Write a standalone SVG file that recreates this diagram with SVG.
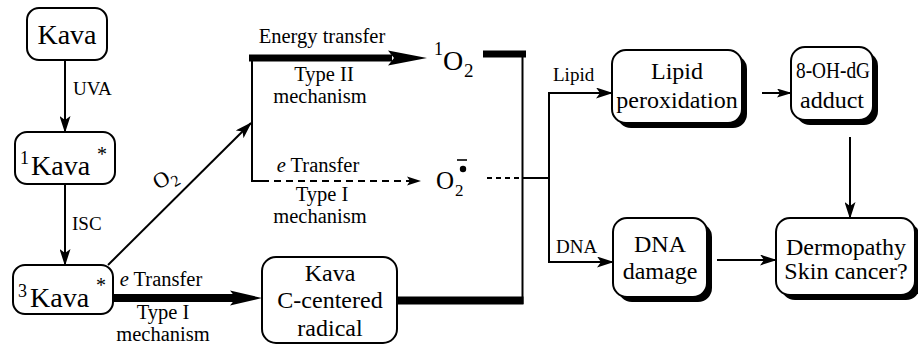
<svg xmlns="http://www.w3.org/2000/svg" width="918" height="349" viewBox="0 0 918 349" font-family="'Liberation Serif', 'DejaVu Serif', 'Times New Roman', serif">
<style>
  text { font-family: "Liberation Serif", "DejaVu Serif", "Times New Roman", serif; fill: #000; }
  .lbl { font-size: 19px; }
  .lbm { font-size: 20.5px; text-anchor: middle; }
  .big { font-size: 28px; }
  .bt { font-size: 24px; text-anchor: middle; }
  .box { fill: #fff; stroke: #000; stroke-width: 2; }
  .shadow { fill: #000; stroke: none; }
  .thin { fill: none; stroke: #000; stroke-width: 2; }
  .mid { text-anchor: middle; }
</style>
<defs>
  <marker id="ah" markerUnits="userSpaceOnUse" markerWidth="17" markerHeight="11" refX="16" refY="5.5" orient="auto">
    <path d="M0,0 L17,5.5 L0,11 L4,5.5 z" fill="#000"/>
  </marker>
  <marker id="ahs" markerUnits="userSpaceOnUse" markerWidth="15" markerHeight="9" refX="14" refY="4.5" orient="auto">
    <path d="M0,0 L15,4.5 L0,9 L3,4.5 z" fill="#000"/>
  </marker>
</defs>

<g id="kava">
  <rect class="box" x="27" y="8" width="80" height="52" rx="12"/>
  <text class="big mid" x="67" y="44">Kava</text>
</g>
<g id="kava1">
  <rect class="box" x="15" y="132" width="100" height="52" rx="12"/>
  <text x="20" y="164" font-size="18">1</text>
  <text class="big" x="31" y="175">Kava</text>
  <text x="97" y="161" font-size="20">*</text>
</g>
<g id="kava3">
  <rect class="box" x="13" y="265" width="100" height="49" rx="12"/>
  <text x="18" y="297" font-size="18">3</text>
  <text class="big" x="30" y="307">Kava</text>
  <text x="96" y="292" font-size="20">*</text>
</g>
<g id="radical">
  <rect class="box" x="262" y="257" width="135" height="86" rx="14"/>
  <text class="bt" x="330" y="281">Kava</text>
  <text class="bt" x="330" y="308">C-centered</text>
  <text class="bt" x="330" y="336">radical</text>
</g>
<g id="singlet-oxygen">
  <text x="434" y="55" font-size="18">1</text>
  <text x="443" y="70" font-size="28">O</text>
  <text x="464" y="77" font-size="19">2</text>
</g>
<g id="superoxide">
  <text x="436" y="189" font-size="25">O</text>
  <text x="455" y="196" font-size="17">2</text>
  <circle cx="463" cy="169" r="3.2" fill="#000"/>
  <line x1="457" y1="160" x2="467" y2="160" stroke="#000" stroke-width="1.6"/>
</g>
<g id="lipid-peroxidation">
  <rect class="shadow" x="617" y="55" width="130" height="73" rx="14"/>
  <rect class="box" x="612" y="50" width="130" height="73" rx="14"/>
  <text class="bt" x="677" y="79">Lipid</text>
  <text class="bt" x="677" y="108">peroxidation</text>
</g>
<g id="adduct">
  <rect class="shadow" x="796" y="52" width="82" height="73" rx="14"/>
  <rect class="box" x="791" y="47" width="82" height="73" rx="14"/>
  <text class="bt" x="833" y="78" textLength="74" lengthAdjust="spacingAndGlyphs">8-OH-dG</text>
  <text class="bt" x="832" y="108">adduct</text>
</g>
<g id="dna-damage">
  <rect class="shadow" x="618" y="223" width="94" height="79" rx="14"/>
  <rect class="box" x="613" y="218" width="94" height="79" rx="14"/>
  <text class="bt" x="660" y="252">DNA</text>
  <text class="bt" x="660" y="279">damage</text>
</g>
<g id="dermopathy">
  <rect class="shadow" x="781" y="223" width="139" height="77" rx="14"/>
  <rect class="box" x="776" y="218" width="139" height="77" rx="14"/>
  <text class="bt" x="846" y="255">Dermopathy</text>
  <text class="bt" x="846" y="279">Skin cancer?</text>
</g>

<g id="connectors">
  <line class="thin" x1="65" y1="60" x2="65" y2="132" marker-end="url(#ah)"/>
  <line class="thin" x1="65" y1="184" x2="65" y2="265" marker-end="url(#ah)"/>
  <line class="thin" x1="108" y1="265" x2="251" y2="123" marker-end="url(#ah)"/>
  <path class="thin" d="M252,58 L252,181 L262,181"/>
  <line x1="262" y1="181" x2="410" y2="181" stroke="#000" stroke-width="2" stroke-dasharray="7,5"/>
  <path d="M407,176.5 L421,181 L407,185.5 L410,181 z" fill="#000"/>
  <line x1="249" y1="58" x2="392" y2="58" stroke="#000" stroke-width="7"/>
  <path d="M388,50.5 L427,58 L388,65.5 L394,58 z" fill="#000"/>
  <line x1="113" y1="298" x2="236" y2="298" stroke="#000" stroke-width="8"/>
  <path d="M230,290.5 L262,298 L230,305.5 L236,298 z" fill="#000"/>
  <line x1="483" y1="54" x2="526" y2="54" stroke="#000" stroke-width="7"/>
  <line x1="522.5" y1="51" x2="522.5" y2="304" stroke="#000" stroke-width="2"/>
  <line x1="397" y1="300.5" x2="523.5" y2="300.5" stroke="#000" stroke-width="8"/>
  <line x1="487" y1="178" x2="522" y2="178" stroke="#000" stroke-width="2" stroke-dasharray="5,4"/>
  <line x1="522" y1="178" x2="549" y2="178" stroke="#000" stroke-width="2"/>
  <path class="thin" d="M549,93 L549,262"/>
  <line class="thin" x1="548" y1="93" x2="612" y2="93" marker-end="url(#ah)"/>
  <line class="thin" x1="548" y1="262" x2="613" y2="262" marker-end="url(#ah)"/>
  <line class="thin" x1="762" y1="93" x2="791" y2="93" marker-end="url(#ahs)"/>
  <line class="thin" x1="850" y1="137" x2="850" y2="218" marker-end="url(#ah)"/>
  <line class="thin" x1="717" y1="260" x2="776" y2="260" marker-end="url(#ah)"/>
</g>

<g id="labels">
  <text class="lbl" x="73" y="95">UVA</text>
  <text class="lbl" x="72" y="230">ISC</text>
  <g transform="translate(158,190) rotate(-30)">
    <text font-size="22" x="0" y="0">O<tspan font-size="16" dy="6">2</tspan></text>
  </g>
  <text class="lbm" x="322" y="43">Energy transfer</text>
  <text class="lbm" x="324" y="81">Type II</text>
  <text class="lbm" x="320" y="103">mechanism</text>
  <text class="lbm" x="318" y="172"><tspan font-style="italic">e</tspan> Transfer</text>
  <text class="lbm" x="322" y="201">Type I</text>
  <text class="lbm" x="320" y="223">mechanism</text>
  <text class="lbm" x="161" y="286"><tspan font-style="italic">e</tspan> Transfer</text>
  <text class="lbm" x="163" y="319">Type I</text>
  <text class="lbm" x="163" y="341">mechanism</text>
  <text class="lbl" x="553" y="81">Lipid</text>
  <text class="lbl" x="556" y="253">DNA</text>
</g>
</svg>
